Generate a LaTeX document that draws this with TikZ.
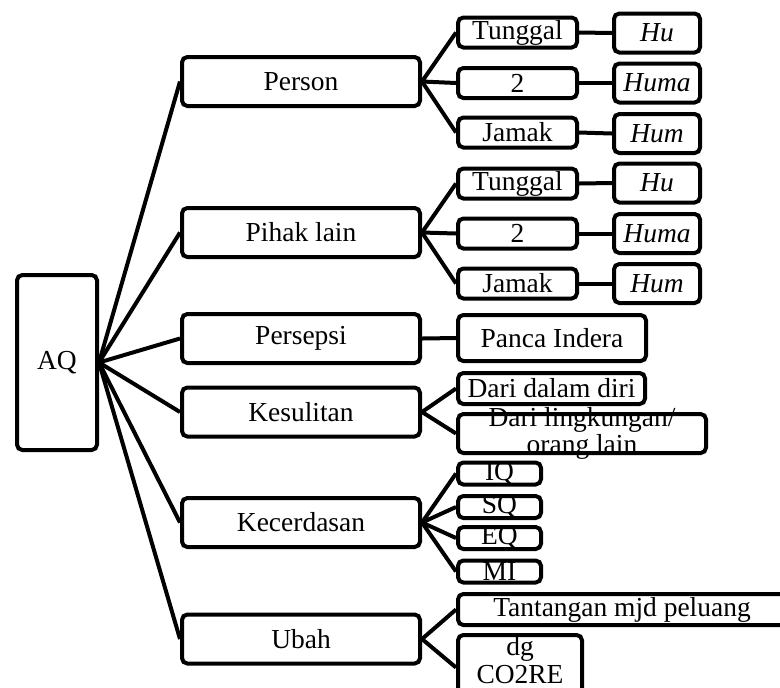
\documentclass[tikz,border=0pt]{standalone}
\usepackage{fontspec}
\setmainfont{Liberation Serif}
\tikzset{
  kotak/.style={draw, line width=3pt, rounded corners=4pt, fill=white,
    inner sep=0pt, align=center, font=\fontsize{20.6}{20.5}\selectfont},
  teks/.style={inner sep=0pt, align=center, font=\fontsize{20.6}{20.5}\selectfont},
  ukuran/.style 2 args={minimum width=#1*0.75pt, minimum height=#2*0.75pt},
  garis/.style={line width=3pt}
}

\begin{document}
\begin{tikzpicture}[x=0.75pt,y=-0.75pt]
\useasboundingbox (0,0) rectangle (780,687);

\node[kotak, ukuran={80}{175}] (aq) at (57,362.5) {AQ};

% cabang utama
\node[kotak, ukuran={238}{49}] (person) at (301,81.5) {Person};
\node[kotak, ukuran={238}{49}] (pihak) at (301,232.5) {Pihak lain};
\node[kotak, ukuran={238}{49}] (persepsi) at (301,338.5) {Persepsi};
\node[kotak, ukuran={238}{49}] (kesulitan) at (301,412) {Kesulitan};
\node[kotak, ukuran={238}{49}] (kecerdasan) at (301,522.5) {Kecerdasan};
\node[kotak, ukuran={238}{49}] (ubah) at (301,639) {Ubah};

% person
\node[kotak, ukuran={119}{30}] (tunggal1) at (517.5,32.5) {Tunggal};
\node[kotak, ukuran={119}{30}] (dua1) at (517.5,83) {2};
\node[kotak, ukuran={119}{30}] (jamak1) at (517.5,132.5) {Jamak};
\node[kotak, ukuran={86}{39}] (hu1) at (657,33) {\textit{Hu}};
\node[kotak, ukuran={86}{39}] (huma1) at (657,83) {\textit{Huma}};
\node[kotak, ukuran={86}{39}] (hum1) at (657,133.5) {\textit{Hum}};

% pihak lain
\node[kotak, ukuran={119}{30}] (tunggal2) at (517.5,183.5) {Tunggal};
\node[kotak, ukuran={119}{30}] (dua2) at (517.5,233.5) {2};
\node[kotak, ukuran={119}{30}] (jamak2) at (517.5,283.5) {Jamak};
\node[kotak, ukuran={86}{39}] (hu2) at (657,183) {\textit{Hu}};
\node[kotak, ukuran={86}{39}] (huma2) at (657,233.5) {\textit{Huma}};
\node[kotak, ukuran={86}{39}] (hum2) at (657,283.5) {\textit{Hum}};

% persepsi, kesulitan
\node[kotak, ukuran={188}{46}] (panca) at (552,338) {Panca Indera};
\node[kotak, ukuran={187}{31}] (dalam) at (551.5,388.5) {Dari dalam diri};
\node[kotak, ukuran={248}{39}, inner ysep=-5pt] (lingkungan) at (582,433.5)
  {Dari lingkungan/\\orang lain};

% kecerdasan
\node[kotak, ukuran={83}{22}, inner ysep=-1pt] (iq) at (499.5,473.5) {IQ};
\node[kotak, ukuran={83}{22}, inner ysep=-1pt] (sq) at (499.5,507) {SQ};
\node[kotak, ukuran={83}{22}, inner ysep=-1pt] (eq) at (499.5,538) {EQ};
\node[kotak, ukuran={83}{22}, inner ysep=-1pt] (mi) at (499.5,571.5) {MI};

% ubah
\node[kotak, ukuran={328}{31}] (tantangan) at (622,609.5) {Tantangan mjd peluang};
\node[kotak, ukuran={124}{65}] (co2re) at (520,667.5) {};
\node[teks] (co2retxt) at (520,660) {dg\\CO2RE};

\foreach \n in {person,pihak,persepsi,kesulitan,kecerdasan,ubah}
  \draw[garis] (aq.east) -- (\n.west);
\foreach \n in {tunggal1,dua1,jamak1}
  \draw[garis] (person.east) -- (\n.west);
\foreach \n in {tunggal2,dua2,jamak2}
  \draw[garis] (pihak.east) -- (\n.west);
\draw[garis] (tunggal1.east) -- (hu1.west);
\draw[garis] (dua1.east) -- (huma1.west);
\draw[garis] (jamak1.east) -- (hum1.west);
\draw[garis] (tunggal2.east) -- (hu2.west);
\draw[garis] (dua2.east) -- (huma2.west);
\draw[garis] (jamak2.east) -- (hum2.west);
\draw[garis] (persepsi.east) -- (panca.west);
\draw[garis] (kesulitan.east) -- (dalam.west);
\draw[garis] (kesulitan.east) -- (lingkungan.west);
\foreach \n in {iq,sq,eq,mi}
  \draw[garis] (kecerdasan.east) -- (\n.west);
\draw[garis] (ubah.east) -- (tantangan.west);
\draw[garis] (ubah.east) -- (co2re.west);
\end{tikzpicture}
\end{document}
